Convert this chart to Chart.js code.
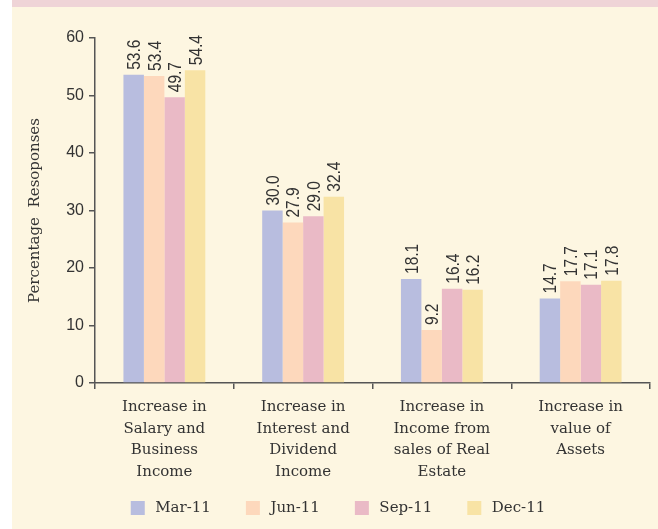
<!DOCTYPE html>
<html>
<head>
<meta charset="utf-8">
<script src="https://cdn.jsdelivr.net/npm/chart.js@4"></script>
<style>
html, body { margin: 0; padding: 0; background: #fff; overflow: hidden; }
#bg { position: absolute; left: 12px; top: 0; width: 646px; height: 529px; background: #fdf6e1; border-top: 7px solid #efd4d7; box-sizing: border-box; }
#c { position: absolute; left: 0; top: 0; }
</style>
</head>
<body>
<div id="bg"></div>
<canvas id="c" width="658" height="529"></canvas>
<script>
const categories = [
    ['Increase in', 'Salary and', 'Business', 'Income'],
    ['Increase in', 'Interest and', 'Dividend', 'Income'],
    ['Increase in', 'Income from', 'sales of Real', 'Estate'],
    ['Increase in', 'value of', 'Assets']
];
const mar11 = [53.6, 30.0, 18.1, 14.7];
const jun11 = [53.4, 27.9, 9.2, 17.7];
const sep11 = [49.7, 29.0, 16.4, 17.1];
const dec11 = [54.4, 32.4, 16.2, 17.8];
const yTicks = [0, 10, 20, 30, 40, 50, 60];

const axisColor = '#555';
const textColor = '#333';

// value labels written upright above every bar
const barLabels = {
    id: 'barLabels',
    afterDatasetsDraw(chart) {
        const ctx = chart.ctx;
        ctx.save();
        ctx.font = '18px "Liberation Sans"';
        ctx.fillStyle = textColor;
        ctx.textAlign = 'left';
        ctx.textBaseline = 'alphabetic';
        chart.data.datasets.forEach((ds, i) => {
            chart.getDatasetMeta(i).data.forEach((bar, j) => {
                ctx.save();
                ctx.translate(bar.x, bar.y - 5);
                ctx.rotate(-Math.PI / 2);
                ctx.scale(0.86, 1);
                ctx.fillText(ds.data[j].toFixed(1), 0, 6.5);
                ctx.restore();
            });
        });
        ctx.restore();
    }
};

const ctx = document.getElementById('c').getContext('2d');

new Chart(ctx, {
    type: 'bar',
    data: {
        labels: categories,
        datasets: [
            { label: 'Mar-11', data: mar11, backgroundColor: '#b8bddf' },
            { label: 'Jun-11', data: jun11, backgroundColor: '#fdd8bc' },
            { label: 'Sep-11', data: sep11, backgroundColor: '#eabac6' },
            { label: 'Dec-11', data: dec11, backgroundColor: '#f8e3a5' }
        ]
    },
    options: {
        responsive: false,
        animation: false,
        layout: {
            padding: { top: 38, right: 8, bottom: 3.5, left: 41 }
        },
        datasets: {
            bar: {
                categoryPercentage: 0.59,
                barPercentage: 1.0,
                borderWidth: 0
            }
        },
        scales: {
            x: {
                grid: {
                    offset: true,
                    drawOnChartArea: false,
                    color: axisColor,
                    lineWidth: 1.5,
                    tickLength: 6
                },
                border: { color: axisColor, width: 1.5 },
                ticks: {
                    color: textColor,
                    padding: 7,
                    maxRotation: 0,
                    font: { family: '"DejaVu Serif"', size: 15, lineHeight: 1.45 }
                },
                afterFit(scale) { scale.height = 97.5; }
            },
            y: {
                min: 0,
                max: 60,
                afterBuildTicks(scale) { scale.ticks = yTicks.map(v => ({ value: v })); },
                grid: {
                    drawOnChartArea: false,
                    color: axisColor,
                    lineWidth: 1.5,
                    tickLength: 6
                },
                border: { color: axisColor, width: 1.5 },
                ticks: {
                    color: textColor,
                    padding: 5,
                    font: { family: '"Liberation Sans"', size: 16 }
                },
                title: {
                    display: true,
                    text: 'Percentage  Resoponses',
                    color: textColor,
                    padding: { top: -15, bottom: 0 },
                    font: { family: '"DejaVu Serif"', size: 15 }
                },
                afterFit(scale) { scale.width = 54; }
            }
        },
        plugins: {
            legend: {
                position: 'bottom',
                labels: {
                    boxWidth: 14,
                    boxHeight: 14,
                    padding: 20,
                    color: textColor,
                    font: { family: '"DejaVu Serif"', size: 15 },
                    generateLabels(chart) {
                        const items = Chart.defaults.plugins.legend.labels.generateLabels(chart);
                        items.forEach(it => { it.text = '\u2009' + it.text + '\u2002\u2002'; });
                        return items;
                    }
                }
            },
            tooltip: { enabled: false }
        }
    },
    plugins: [barLabels]
});
</script>
</body>
</html>
